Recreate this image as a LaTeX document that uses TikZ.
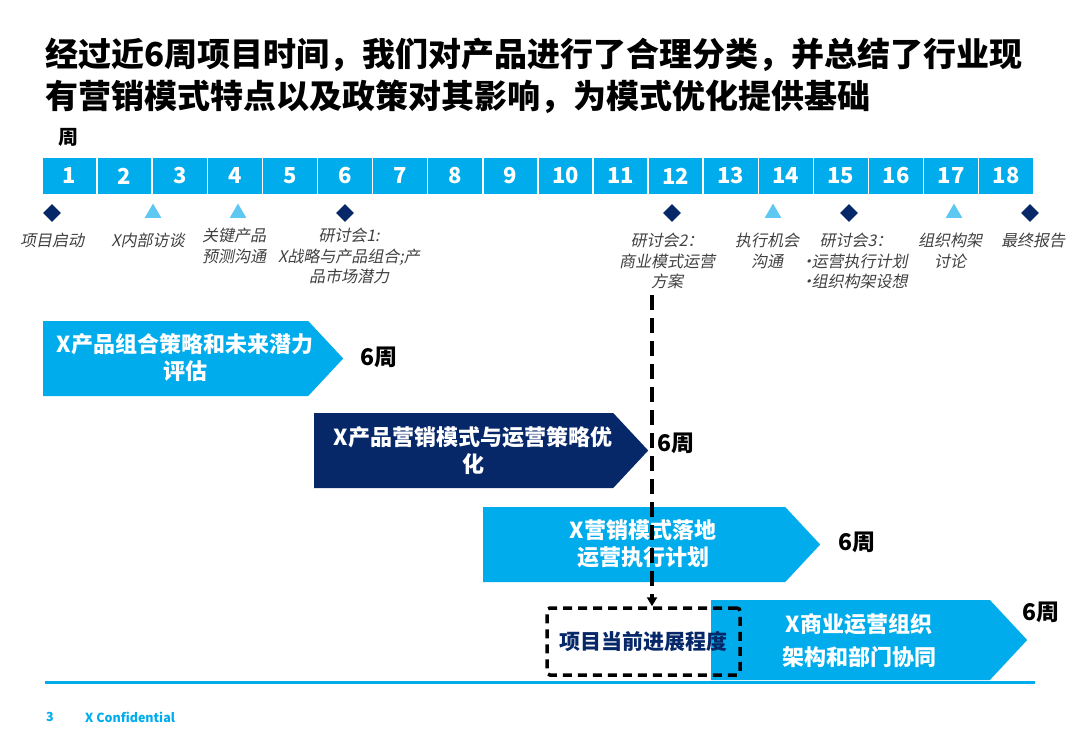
\documentclass[tikz,border=0pt]{standalone}
\usepackage{fontspec}
\setmainfont{Noto Sans CJK SC}
\newfontfamily\slfont{Noto Sans CJK SC}[FakeSlant=0.2]
\usepackage{tikz}
\usetikzlibrary{arrows.meta,positioning,shapes.geometric,shapes.symbols}
\definecolor{pcyan}{RGB}{0,172,236}
\definecolor{pnavy}{RGB}{6,40,105}
\definecolor{plight}{RGB}{94,200,242}
\definecolor{pgray}{RGB}{64,64,64}
\newcommand{\fsz}[2]{\fontsize{#1}{#2}\selectfont}
\newcommand{\bul}{\makebox[7pt]{•}}

\begin{document}
\begin{tikzpicture}[
  x=1pt,y=-1pt,
  every node/.style={inner sep=0pt},
  weekbox/.style={fill=pcyan,draw=white,line width=1.5pt,minimum width=55.1pt,
                  minimum height=38pt,text=white,font=\fsz{22}{26}\bfseries},
  msdiamond/.style={diamond,fill=pnavy,minimum width=18pt,minimum height=18pt},
  mstri/.style={regular polygon,regular polygon sides=3,fill=plight,minimum size=19pt},
  mslabel/.style={anchor=north,align=center,text=pgray,font=\slfont\fsz{16}{20.5}},
  phase/.style={signal,signal to=east,signal pointer angle=94,anchor=west},
  phasetext/.style={text=white,align=center,font=\fsz{22}{27}\bfseries},
  weeks/.style={font=\fsz{23}{26}\bfseries},
]
  \useasboundingbox (0,0) rectangle (1080,748);

  % Title
  \node[anchor=north west,align=left,font=\fsz{33}{42}\bfseries] (title) at (45,38)
    {经过近6周项目时间，我们对产品进行了合理分类，并总结了行业现\\有营销模式特点以及政策对其影响，为模式优化提供基础};

  % Week scale
  \node[font=\fsz{20}{24}\bfseries] (wk) at (68,137) {周};
  \foreach \i in {1,...,18}
    \node[weekbox] (w\i) at ({42+55.1*(\i-0.5)},176) {\i};

  % Milestones
  \foreach \x/\s/\n/\lx/\ly/\t in {
      52/msdiamond/m1/52/233/{项目启动},
      153/mstri/m2/148/233/{X内部访谈},
      238/mstri/m3/234/228/{关键产品\\预测沟通},
      345/msdiamond/m4/349/228/{研讨会1:\\X战略与产品组合;产\\品市场潜力},
      672/msdiamond/m5/667/233/{研讨会2：\\商业模式运营\\方案},
      773/mstri/m6/767/233/{执行机会\\沟通},
      849/msdiamond/m7/856/233/{研讨会3：\\\bul 运营执行计划\\\bul 组织构架设想},
      954/mstri/m8/950/233/{组织构架\\讨论},
      1030/msdiamond/m9/1033/233/{最终报告}}{
    \node[\s] (\n) at (\x,213) {};
    \node[mslabel] (\n-l) at (\lx,\ly) {\t};
  }

  % Phases
  \node[phase,fill=pcyan,minimum width=300pt,minimum height=75pt] (p1) at (43,358.5) {};
  \node[phasetext] (p1-t) at (185,358) {X产品组合策略和未来潜力\\评估};
  \node[weeks] (p1-w) at (379,357) {6周};
  \node[phase,fill=pnavy,minimum width=334pt,minimum height=75pt] (p2) at (314,450.5) {};
  \node[phasetext] (p2-t) at (473,451) {X产品营销模式与运营策略优\\化};
  \node[weeks] (p2-w) at (676,443) {6周};
  \node[phase,fill=pcyan,minimum width=337pt,minimum height=75pt] (p3) at (483,544.5) {};
  \node[phasetext] (p3-t) at (643,544) {X营销模式落地\\运营执行计划};
  \node[weeks] (p3-w) at (857,542) {6周};
  \node[phase,fill=pcyan,minimum width=316pt,minimum height=80pt] (p4) at (711,640) {};
  \node[phasetext,font=\fsz{22}{33}\bfseries] (p4-t) at (859,641) {X商业运营组织\\架构和部门协同};
  \node[weeks] (p4-w) at (1041,612) {6周};

  % Current progress
  \node[draw,dash pattern=on 9pt off 6pt,line width=3.5pt,rounded corners=3pt,
        minimum width=193pt,minimum height=67pt,text=pnavy,
        font=\fsz{21}{24}\bfseries] (cur) at (643.5,641.5) {项目当前进展程度};
  \coordinate (top) at (652,295);
  \draw[line width=3.5pt,dash pattern=on 15pt off 8pt,-{Triangle[width=10pt,length=9pt]}]
    (top) -- (top |- cur.north);

  % Footer
  \draw[pcyan,line width=3pt] (45,682) -- (1035,682);
  \node[anchor=west,text=pcyan,font=\fsz{12.5}{14}\bfseries] (page) at (46,717) {3};
  \node[anchor=west,text=pcyan,font=\fsz{12.5}{14}\bfseries] (conf) at (85,717) {X Confidential};
\end{tikzpicture}
\end{document}
